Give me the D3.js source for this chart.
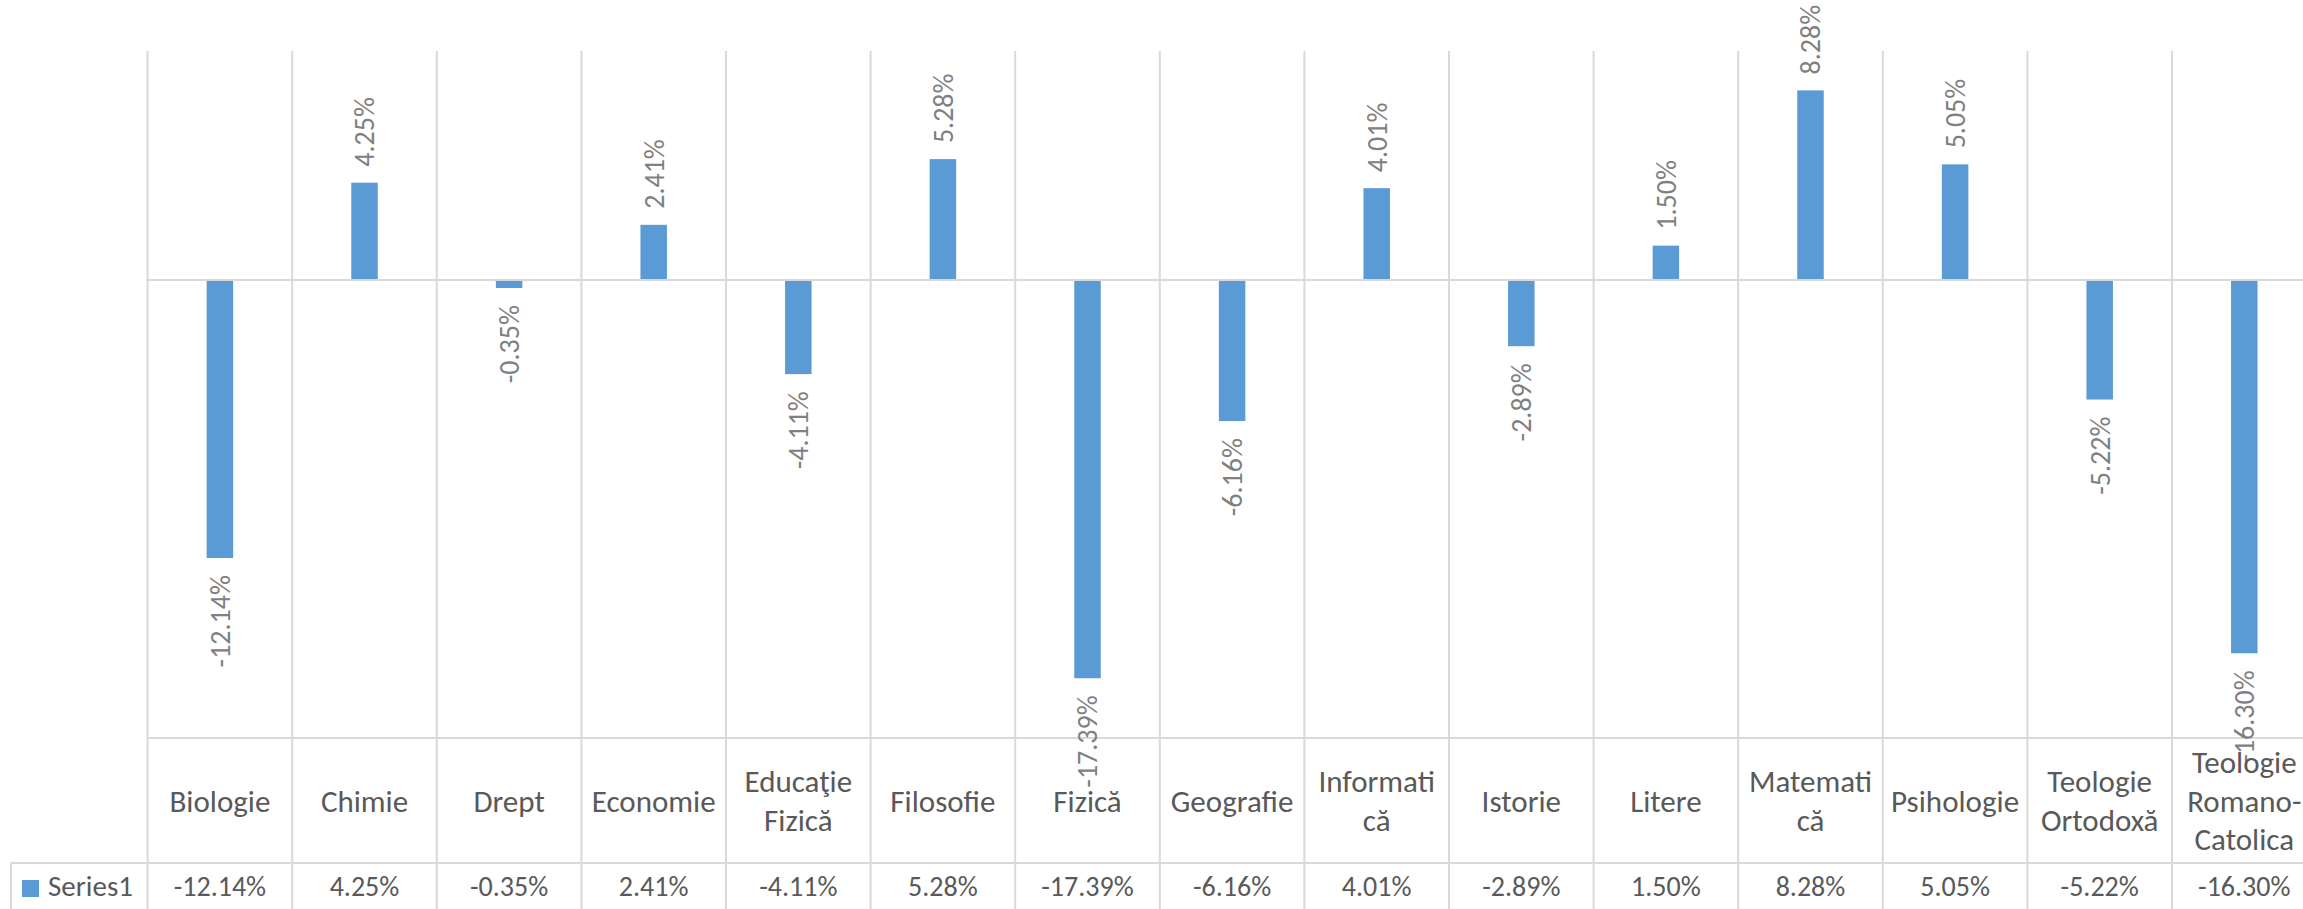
<!DOCTYPE html>
<html><head><meta charset="utf-8">
<script src="https://cdn.jsdelivr.net/npm/d3@7"></script>
<style>body{margin:0;background:#fff;overflow:hidden}</style>
</head><body>
<svg id="c" width="2303" height="909"></svg>
<script>
const categories = ["Biologie","Chimie","Drept","Economie","Educaţie Fizică","Filosofie","Fizică","Geografie","Informatică","Istorie","Litere","Matematică","Psihologie","Teologie Ortodoxă","Teologie Romano-Catolica"];
const categoryLines = [["Biologie"],["Chimie"],["Drept"],["Economie"],["Educaţie","Fizică"],["Filosofie"],["Fizică"],["Geografie"],["Informati","că"],["Istorie"],["Litere"],["Matemati","că"],["Psihologie"],["Teologie","Ortodoxă"],["Teologie","Romano-","Catolica"]];
const values = [-12.14, 4.25, -0.35, 2.41, -4.11, 5.28, -17.39, -6.16, 4.01, -2.89, 1.50, 8.28, 5.05, -5.22, -16.30];
const seriesName = "Series1";
const yDomain = [-20, 10];

const W = 2303, H = 909;
const plotLeft = 147.6, step = 144.6;
const plotTop = 51, plotBottom = 738, rowLine = 863;
const FONT = "Carlito, Calibri, Lato, sans-serif";
const GRID = "#d9d9d9";

const svg = d3.select("#c");
const x = d3.scaleBand().domain(categories).range([plotLeft, plotLeft + step * categories.length]).paddingInner(0).paddingOuter(0);
const y = d3.scaleLinear().domain(yDomain).range([plotBottom, plotTop]);
const fmt = v => v.toFixed(2) + "%";
const barW = 26.5;
const data = categories.map((c, i) => ({c, v: values[i], lines: categoryLines[i]}));

// vertical grid / table lines
const bounds = categories.map(c => x(c)).concat([x.range()[1]]);
svg.append("g").selectAll("line").data(bounds).join("line")
  .attr("x1", d => d).attr("x2", d => d)
  .attr("y1", plotTop).attr("y2", H)
  .attr("stroke", GRID).attr("stroke-width", 2);

// bars
svg.append("g").selectAll("rect").data(data).join("rect")
  .attr("x", d => x(d.c) + x.bandwidth() / 2 - barW / 2)
  .attr("width", barW)
  .attr("y", d => y(Math.max(0, d.v)))
  .attr("height", d => Math.abs(y(d.v) - y(0)))
  .attr("fill", "#5b9bd5");

// zero axis line
svg.append("line").attr("x1", plotLeft).attr("x2", W).attr("y1", y(0)).attr("y2", y(0))
  .attr("stroke", GRID).attr("stroke-width", 2);

// table horizontal lines
svg.append("line").attr("x1", plotLeft).attr("x2", W).attr("y1", plotBottom).attr("y2", plotBottom)
  .attr("stroke", GRID).attr("stroke-width", 2);
svg.append("line").attr("x1", 11).attr("x2", W).attr("y1", rowLine).attr("y2", rowLine)
  .attr("stroke", GRID).attr("stroke-width", 2);
svg.append("line").attr("x1", 11).attr("x2", 11).attr("y1", rowLine).attr("y2", H)
  .attr("stroke", GRID).attr("stroke-width", 2);

// data labels (rotated)
svg.append("g").selectAll("text").data(data).join("text")
  .attr("transform", d => {
    const cx = x(d.c) + x.bandwidth() / 2;
    const yy = d.v >= 0 ? y(d.v) - 16 : y(d.v) + 17;
    return `translate(${cx},${yy}) rotate(-90)`;
  })
  .attr("text-anchor", d => d.v >= 0 ? "start" : "end")
  .attr("dy", "0.35em")
  .attr("font-family", FONT).attr("font-size", 28)
  .attr("fill", "#808080")
  .text(d => fmt(d.v));

// category labels
const lh = 38.5, rowMid = (plotBottom + rowLine) / 2;
const cat = svg.append("g").selectAll("text").data(data).join("text")
  .attr("text-anchor", "middle")
  .attr("font-family", FONT).attr("font-size", 31)
  .attr("fill", "#595959");
cat.each(function(d) {
  const t = d3.select(this);
  const n = d.lines.length;
  d.lines.forEach((ln, k) => {
    t.append("tspan")
      .attr("x", x(d.c) + x.bandwidth() / 2)
      .attr("y", rowMid + (k - (n - 1) / 2) * lh + 11)
      .text(ln);
  });
});

// value row
svg.append("g").selectAll("text").data(data).join("text")
  .attr("x", d => x(d.c) + x.bandwidth() / 2)
  .attr("y", 896)
  .attr("text-anchor", "middle")
  .attr("font-family", FONT).attr("font-size", 28)
  .attr("fill", "#595959")
  .text(d => fmt(d.v));

// legend key
svg.append("rect").attr("x", 22).attr("y", 880).attr("width", 17).attr("height", 17).attr("fill", "#5b9bd5");
svg.append("text").attr("x", 48).attr("y", 896)
  .attr("font-family", FONT).attr("font-size", 29).attr("fill", "#595959")
  .text(seriesName);
</script>
</body></html>
